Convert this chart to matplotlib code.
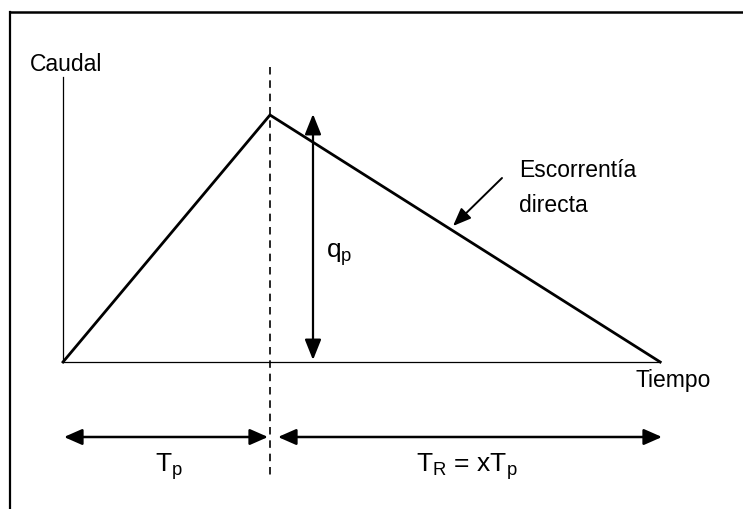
import matplotlib
matplotlib.use("Agg")
import matplotlib.pyplot as plt
from matplotlib.lines import Line2D

plt.rcParams['font.family'] = ['Liberation Sans', 'DejaVu Sans']

# Hydrograph (triangular unit hydrograph), time in units of Tp, flow in units of qp
time = [0.0, 1.0, 2.885]
flow = [0.0, 1.0, 0.0]
x_label = "Tiempo"
y_label = "Caudal"
peak_label = "q$_\\mathregular{p}$"
runoff_label = ["Escorrentía", "directa"]
tp_label = "T$_\\mathregular{p}$"
tr_label = "T$_\\mathregular{R}$ = xT$_\\mathregular{p}$"

W, H = 743, 509
fig = plt.figure(figsize=(W / 100, H / 100), dpi=100)
ax = fig.add_axes([0, 0, 1, 1])
# pixel mapping: x_px = 63 + 207*t ; y_px = 362 - 247*q
sx, x0 = 207.0, 63.0
sy, y0 = 247.0, 362.0
ax.set_xlim(-x0 / sx, (W - x0) / sx)
ax.set_ylim((y0 - H) / sy, y0 / sy)
ax.axis('off')

def X(px):
    return (px - x0) / sx

def Y(py):
    return (y0 - py) / sy

# outer frame (top and left)
fig.add_artist(Line2D([10 / W, 10 / W], [0, 1 - 12 / H], color='black', lw=1.6, transform=fig.transFigure))
fig.add_artist(Line2D([10 / W, 1], [1 - 12 / H, 1 - 12 / H], color='black', lw=1.8, transform=fig.transFigure))

# axes lines
ax.plot([0, 0], [0, Y(77)], color='black', lw=0.9)
ax.plot([0, time[-1]], [0, 0], color='black', lw=0.9)

# hydrograph
ax.plot(time, flow, color='black', lw=2.0, solid_joinstyle='miter')

# dashed vertical at peak
ax.plot([time[1], time[1]], [Y(67), Y(478)], color='black', lw=1.2, ls=(0, (4.5, 3.5)))

# qp double arrow
xq = X(313)
ax.annotate('', xy=(xq, Y(114)), xytext=(xq, Y(360)),
            arrowprops=dict(arrowstyle='<|-|>,head_length=0.5,head_width=0.2', color='black', lw=1.6,
                            mutation_scale=25, shrinkA=0, shrinkB=0))
ax.text(X(326), Y(257), peak_label, fontsize=19, va='baseline', ha='left')

# Escorrentia directa annotation
ax.annotate('', xy=(X(453), Y(226)), xytext=(X(502), Y(178)),
            arrowprops=dict(arrowstyle='-|>,head_length=0.5,head_width=0.2', color='black', lw=1.4,
                            mutation_scale=22, shrinkA=0, shrinkB=0))
ax.text(X(519), Y(177), runoff_label[0], fontsize=16.5, va='baseline', ha='left')
ax.text(X(519), Y(212), runoff_label[1], fontsize=16.5, va='baseline', ha='left')

ax.text(X(30), Y(71), y_label, fontsize=16.5, va='baseline', ha='left')
ax.text(X(636), Y(387), x_label, fontsize=16.5, va='baseline', ha='left')

# bottom duration arrows
ya = Y(437)
style = '<|-|>,head_length=0.5,head_width=0.22'
ax.annotate('', xy=(X(64), ya), xytext=(X(268), ya),
            arrowprops=dict(arrowstyle=style, color='black', lw=1.8,
                            mutation_scale=22, shrinkA=0, shrinkB=0))
ax.annotate('', xy=(X(278), ya), xytext=(X(662), ya),
            arrowprops=dict(arrowstyle=style, color='black', lw=1.8,
                            mutation_scale=22, shrinkA=0, shrinkB=0))
ax.text(X(155), Y(471), tp_label, fontsize=19, va='baseline', ha='left')
ax.text(X(416), Y(471), tr_label, fontsize=19, va='baseline', ha='left')

fig.savefig('out.png', dpi=100)
